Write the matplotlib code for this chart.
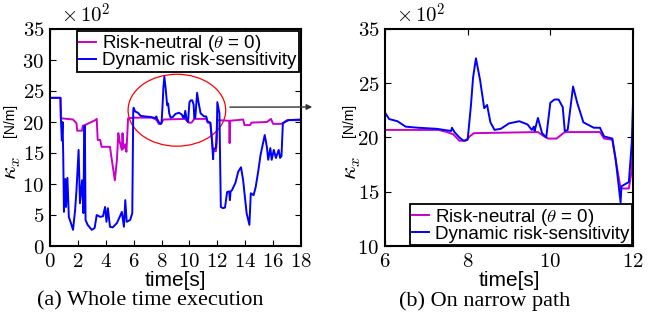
import numpy as np
import matplotlib
matplotlib.use("Agg")
import matplotlib.pyplot as plt
from matplotlib.patches import Ellipse

plt.rcParams['mathtext.fontset'] = 'cm'
plt.rcParams['font.family'] = ['Liberation Sans', 'DejaVu Sans']

# stiffness kappa_x, in units of 10^2 N/m
t_dyn = [0.0, 0.75, 0.78, 0.85, 0.9, 0.95, 1.0, 1.1, 1.15, 1.25, 1.35, 1.5, 1.65, 1.8, 1.9,
         2.05, 2.15, 2.3, 2.4, 2.45, 2.5, 2.55, 2.7, 3.0, 3.2, 3.35, 3.6, 3.8, 3.95, 4.05,
         4.15, 4.3, 4.5, 4.8, 5.0, 5.15, 5.3, 5.4, 5.5, 5.75, 5.9, 5.97, 6.0, 6.1, 6.3,
         6.5, 6.8, 7.25, 7.6, 7.62, 7.68, 7.8, 7.9, 8.0, 8.08, 8.13, 8.2, 8.3, 8.4, 8.47,
         8.55, 8.65, 8.8, 9.0, 9.25, 9.45, 9.55, 9.6, 9.62, 9.7, 9.8, 9.9, 10.0, 10.1, 10.2,
         10.3, 10.35, 10.42, 10.55, 10.65, 10.8, 11.05, 11.2, 11.3, 11.5, 11.58, 11.65, 11.7,
         11.72, 11.9, 11.97, 12.0, 12.15, 12.22, 12.25, 12.4, 12.55, 12.7, 12.85, 12.9, 12.95,
         13.05, 13.3, 13.5, 13.7, 13.85, 14.1, 14.3, 14.4, 14.6, 14.75, 14.95, 15.1, 15.3,
         15.4, 15.55, 15.65, 15.8, 15.9, 16.05, 16.2, 16.4, 16.5, 16.6, 16.7, 16.85, 17.1, 17.95]
k_dyn = [23.9, 23.9, 20.6, 17.0, 20.0, 14.4, 5.5, 10.8, 6.3, 11.0, 4.7, 3.7, 2.6, 5.8, 9.0,
         15.5, 6.9, 10.6, 5.3, 19.2, 19.4, 4.2, 3.4, 2.6, 2.9, 5.0, 4.7, 4.8, 6.3, 3.9,
         6.1, 3.1, 3.0, 3.7, 4.7, 5.5, 3.1, 7.4, 3.9, 4.2, 5.3, 21.9, 22.3, 21.7, 21.5,
         21.0, 20.9, 20.8, 20.6, 20.9, 20.5, 20.0, 19.7, 19.8, 23.0, 25.5, 27.3, 25.3, 22.7, 23.0,
         21.4, 20.7, 20.8, 21.3, 21.5, 21.2, 20.7, 21.0, 20.6, 21.8, 20.4, 20.0, 23.2, 23.5, 23.5,
         22.8, 20.6, 20.7, 24.7, 23.2, 21.4, 20.9, 20.9, 20.1, 19.9, 18.0, 15.7, 14.0,
         15.5, 15.9, 19.5, 23.2, 21.4, 10.0, 6.3, 6.1, 6.2, 8.7, 8.8, 7.4, 8.8,
         9.0, 10.2, 12.0, 12.7, 10.6, 5.3, 3.4, 8.5, 8.2, 9.5, 12.3, 14.7, 16.8,
         17.9, 16.0, 13.9, 15.8, 13.9, 15.5, 14.2, 15.5, 14.2, 14.5, 19.8, 20.0, 20.3, 20.4]

t_neu = [0.0, 0.75, 0.78, 1.65, 1.9, 1.95, 2.3, 2.35, 2.5, 3.25, 3.35, 3.42, 3.6, 3.7, 4.3,
         4.4, 4.65, 4.8, 4.9, 5.0, 5.15, 5.2, 5.27, 5.4, 5.48, 5.6, 6.0, 7.3, 7.5, 7.65,
         7.8, 7.95, 8.05, 8.15, 9.7, 9.85, 9.95, 10.15, 10.25, 10.35, 11.2, 11.3, 11.5, 11.6,
         11.7, 11.9, 11.97, 12.0, 12.85, 12.88, 12.92, 13.85, 13.95, 14.35, 14.45, 15.55,
         15.85, 16.0, 16.6, 16.75, 17.0, 17.95]
k_neu = [23.9, 23.9, 20.6, 20.4, 19.8, 18.6, 18.6, 19.4, 19.5, 20.3, 20.5, 17.1, 17.1, 16.0, 16.0,
         14.4, 10.6, 13.9, 18.2, 16.8, 15.5, 18.2, 15.7, 16.4, 15.2, 20.6, 20.7, 20.7, 20.5, 20.3,
         19.7, 19.7, 20.1, 20.4, 20.5, 20.1, 19.9, 19.9, 20.2, 20.5, 20.5, 19.9, 19.8, 17.5,
         15.3, 15.3, 17.0, 20.3, 20.2, 16.6, 20.2, 20.4, 19.5, 19.5, 19.9, 20.0,
         20.5, 19.7, 19.7, 19.9, 20.3, 20.3]

xt_a = [0, 2, 4, 6, 8, 10, 12, 14, 16, 18]
yt_a = [0, 5, 10, 15, 20, 25, 30, 35]
yl_a = ['0', '5', '10', '15', '20', '25', '30', '35']
xt_b = [6, 8, 10, 12]
yt_b = [10, 15, 20, 25, 30]
yl_b = ['10', '15', '20', '25', '35']

lbl_neu = r'Risk-neutral ($\theta$ = 0)'
lbl_dyn = 'Dynamic risk-sensitivity'
col_neu = '#c800c8'
col_dyn = '#0000ff'

fig = plt.figure(figsize=(6.57, 3.2), dpi=100)
ax1 = fig.add_axes([50 / 657, 74 / 320, 251 / 657, 217 / 320])
ax2 = fig.add_axes([385 / 657, 74 / 320, 248 / 657, 217 / 320])


def style(ax, xt, yt, yl, xlim, ylim):
    ax.set_xlim(*xlim)
    ax.set_ylim(*ylim)
    ax.set_xticks(xt)
    ax.set_xticklabels(['$%d$' % v for v in xt])
    ax.set_yticks(yt)
    ax.set_yticklabels(['$%s$' % s for s in yl])
    ax.tick_params(direction='in', top=True, right=True, labelsize=15, length=4, width=0.8, pad=4)
    for s in ax.spines.values():
        s.set_linewidth(1.5)
    ax.set_xlabel('time[s]', fontsize=15, labelpad=0)
    ax.text(0.045, 1.01, r'$\times\,10^2$', transform=ax.transAxes, fontsize=15, va='bottom')


for ax in (ax1, ax2):
    ax.plot(t_neu, k_neu, color=col_neu, lw=1.4, label=lbl_neu)
    ax.plot(t_dyn, k_dyn, color=col_dyn, lw=1.4, label=lbl_dyn)

style(ax1, xt_a, yt_a, yl_a, (0, 18), (0, 35))
style(ax2, xt_b, yt_b, yl_b, (6, 12), (10, 30))

# y labels
for ax, xpos in ((ax1, -0.15), (ax2, -0.135)):
    ax.text(xpos, 0.36, r'$\kappa_x$', transform=ax.transAxes, rotation=90,
            fontsize=17, ha='center', va='center')
    ax.text(xpos - 0.01, 0.58, '[N/m]', transform=ax.transAxes, rotation=90,
            fontsize=10, ha='center', va='center')

leg_kw = dict(fontsize=13.5, handlelength=0.9, handletextpad=0.35, labelspacing=-0.1,
              borderpad=0.12, fancybox=False, framealpha=1, edgecolor='black')
l1 = ax1.legend(loc='upper right', borderaxespad=0.1, **leg_kw)
l2 = ax2.legend(loc='lower right', borderaxespad=0.05, **leg_kw)
for l in (l1, l2):
    l.get_frame().set_linewidth(1.3)

# highlight of the narrow-path part
ax1.add_patch(Ellipse((9.1, 21.9), 7.0, 11.6, fill=False, edgecolor='red', lw=0.9))
ax1.annotate('', xy=(315 / 657, 1 - 107 / 320), xycoords='figure fraction',
             xytext=(12.7, 22.4), textcoords='data',
             arrowprops=dict(arrowstyle='-|>', color='#333333', lw=1, mutation_scale=8))

fig.text(150 / 657, 1 - 301 / 320, '(a) Whole time execution', family='Liberation Serif',
         fontsize=16, ha='center', va='center')
fig.text(485 / 657, 1 - 301 / 320, '(b) On narrow path', family='Liberation Serif',
         fontsize=16, ha='center', va='center')

fig.savefig('out.png', dpi=100)
